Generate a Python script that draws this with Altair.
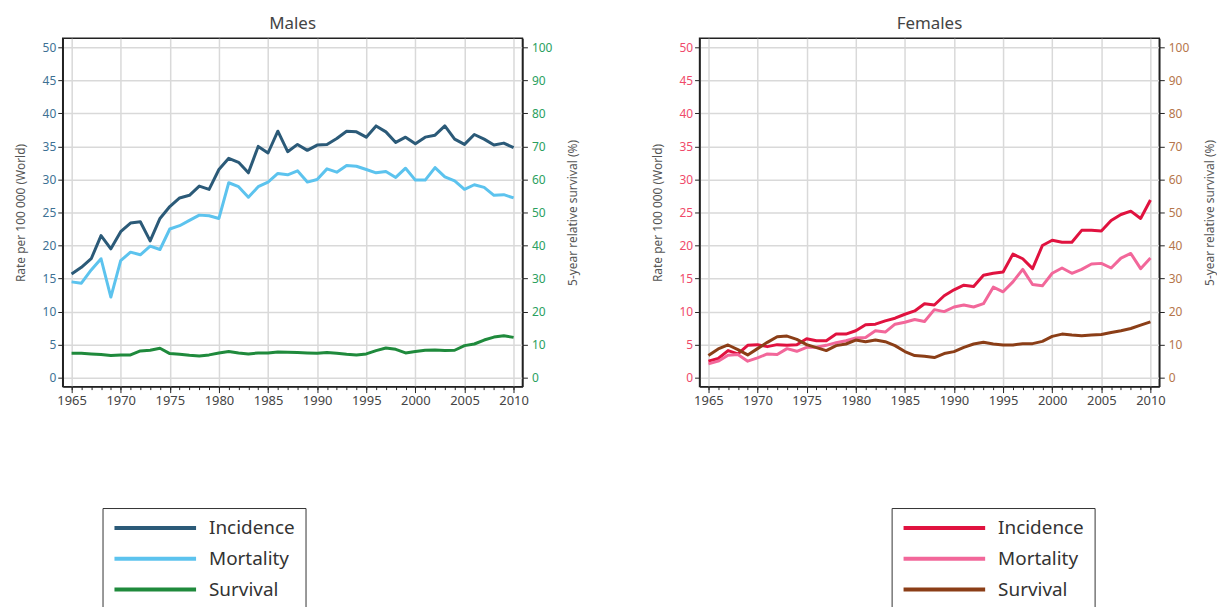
import altair as alt
import pandas as pd

years = list(range(1965, 2011))
series_names = ["Incidence", "Mortality", "Survival"]

male_incidence = [15.7, 16.7, 18.0, 21.5, 19.5, 22.1, 23.4, 23.6, 20.7, 24.1,
                  25.9, 27.2, 27.6, 29.0, 28.5, 31.5, 33.2, 32.6, 31.0, 35.0,
                  34.0, 37.3, 34.2, 35.3, 34.4, 35.2, 35.3, 36.2, 37.3, 37.2,
                  36.4, 38.1, 37.2, 35.6, 36.4, 35.4, 36.4, 36.7, 38.1, 36.1,
                  35.3, 36.8, 36.1, 35.2, 35.5, 34.8]
male_mortality = [14.5, 14.3, 16.3, 18.0, 12.2, 17.7, 19.0, 18.6, 19.9, 19.4,
                  22.5, 23.0, 23.8, 24.6, 24.5, 24.1, 29.5, 28.9, 27.3, 28.9,
                  29.6, 30.9, 30.7, 31.3, 29.6, 30.0, 31.6, 31.1, 32.1, 32.0,
                  31.5, 31.0, 31.2, 30.3, 31.7, 29.9, 29.9, 31.8, 30.4, 29.8,
                  28.5, 29.2, 28.8, 27.6, 27.7, 27.2]
male_survival = [7.4, 7.4, 7.2, 7.0, 6.7, 6.9, 6.9, 8.1, 8.3, 8.9,
                 7.3, 7.1, 6.8, 6.6, 6.9, 7.5, 7.9, 7.5, 7.2, 7.5,
                 7.5, 7.8, 7.7, 7.6, 7.5, 7.4, 7.6, 7.4, 7.1, 6.9,
                 7.2, 8.2, 9.0, 8.6, 7.5, 7.9, 8.3, 8.4, 8.2, 8.3,
                 9.7, 10.2, 11.4, 12.3, 12.7, 12.2]

female_incidence = [2.5, 2.9, 4.1, 3.6, 4.9, 5.0, 4.7, 5.0, 4.9, 5.0,
                    5.9, 5.6, 5.6, 6.6, 6.6, 7.1, 8.0, 8.1, 8.6, 9.0,
                    9.6, 10.1, 11.2, 11.0, 12.4, 13.3, 14.0, 13.8, 15.5, 15.8,
                    16.0, 18.7, 18.0, 16.5, 20.0, 20.8, 20.5, 20.5, 22.3, 22.3,
                    22.2, 23.8, 24.7, 25.2, 24.1, 26.9]
female_mortality = [2.1, 2.5, 3.4, 3.5, 2.5, 3.0, 3.6, 3.5, 4.4, 4.0,
                    4.6, 4.6, 4.9, 5.3, 5.6, 6.0, 6.1, 7.1, 6.9, 8.1,
                    8.4, 8.8, 8.5, 10.3, 10.0, 10.7, 11.0, 10.7, 11.2, 13.7,
                    13.0, 14.5, 16.4, 14.1, 13.9, 15.8, 16.6, 15.8, 16.4, 17.2,
                    17.3, 16.6, 18.1, 18.8, 16.5, 18.1]
female_survival = [6.7, 8.7, 9.9, 8.5, 6.9, 8.8, 10.7, 12.4, 12.6, 11.6,
                   10.0, 9.1, 8.2, 9.7, 10.2, 11.4, 10.9, 11.4, 10.9, 9.7,
                   7.9, 6.7, 6.5, 6.1, 7.3, 7.9, 9.2, 10.2, 10.7, 10.2,
                   9.9, 9.9, 10.3, 10.3, 11.0, 12.5, 13.2, 12.9, 12.7, 12.9,
                   13.1, 13.7, 14.2, 14.9, 15.9, 16.9]

major_years = [1965, 1970, 1975, 1980, 1985, 1990, 1995, 2000, 2005, 2010]
rate_ticks = list(range(0, 51, 5))
surv_ticks = list(range(0, 101, 10))

rows = []
for sex, inc, mort, surv in [("Males", male_incidence, male_mortality, male_survival),
                             ("Females", female_incidence, female_mortality, female_survival)]:
    for name, vals in zip(series_names, [inc, mort, surv]):
        for y, v in zip(years, vals):
            rows.append({"sex": sex, "series": name, "year": y, "value": v})
df = pd.DataFrame(rows)

FONT = "Noto Sans"


def panel(sex, colors, left_lab, right_lab, lx, ly):
    d = df[df.sex == sex]
    color = alt.Color(
        "series:N",
        scale=alt.Scale(domain=series_names, range=colors),
        legend=alt.Legend(
            orient="none", legendX=lx, legendY=ly, title=None,
            symbolType="stroke", symbolSize=6724, symbolStrokeWidth=4,
            clipHeight=20, rowPadding=11, labelFontSize=19, labelFont=FONT,
            labelColor="#333", labelOffset=11, strokeColor="#333",
            padding=10, fillColor="white"))
    xscale = alt.Scale(domain=[1964.1, 2010.9], nice=False, zero=False)
    left = alt.Chart(d).transform_filter(alt.datum.series != "Survival").mark_line(
        strokeWidth=3, strokeJoin="round").encode(
        x=alt.X("year:Q", scale=xscale,
                axis=alt.Axis(orient="bottom", values=major_years, format="d",
                              title=None, grid=True,
                              gridColor="#d9d9d9", gridWidth=1.5, tickSize=6,
                              tickColor="#222", domainColor="#222", domainWidth=1.5,
                              labelFontSize=13, labelFont=FONT, labelColor="#444",
                              labelPadding=2)),
        y=alt.Y("value:Q", scale=alt.Scale(domain=[-1.35, 51.35], nice=False, zero=False),
                axis=alt.Axis(values=rate_ticks, title="Rate per 100 000 (World)",
                              grid=True, gridColor="#d9d9d9", gridWidth=1.5,
                              tickSize=5, tickColor="#222", domainColor="#222",
                              domainWidth=1.5, labelFontSize=12, labelFont=FONT,
                              labelColor=left_lab, titleFont=FONT, titleFontSize=12,
                              titleFontWeight="normal", titleColor="#555",
                              titlePadding=15)),
        color=color)
    right = alt.Chart(d).transform_filter(alt.datum.series == "Survival").mark_line(
        strokeWidth=3, strokeJoin="round").encode(
        x=alt.X("year:Q", scale=xscale,
                axis=alt.Axis(orient="bottom", values=years, labels=False, title=None,
                              grid=False, tickSize=3, tickColor="#222", domain=False)),
        y=alt.Y("value:Q", scale=alt.Scale(domain=[-2.7, 102.7], nice=False, zero=False),
                axis=alt.Axis(orient="right", values=surv_ticks,
                              title="5-year relative survival (%)", grid=False,
                              tickSize=5, tickColor="#222", domainColor="#222",
                              domainWidth=1.5, labelFontSize=12, labelFont=FONT,
                              labelColor=right_lab, titleFont=FONT, titleFontSize=12,
                              titleFontWeight="normal", titleColor="#555",
                              titleAngle=270, titlePadding=28, labelPadding=4)),
        color=color)
    return alt.layer(left, right).resolve_scale(y="independent").resolve_axis(
        x="independent").properties(
        width=462, height=350,
        title=alt.TitleParams(sex, fontSize=17, font=FONT, color="#444",
                              fontWeight="normal", offset=5))


male = panel("Males", ["#2b5a78", "#5cc3ee", "#1f8a3c"], "#3d7194", "#2aa060", 40, 472)
female = panel("Females", ["#e0123f", "#f2679a", "#8b3e17"], "#f04a6a", "#b5754a", 193, 472)

chart = alt.hconcat(male, female, spacing=70).resolve_scale(
    color="independent").configure_view(stroke="#222", strokeWidth=1.5).properties(
    padding={"left": 5, "top": 5, "right": 0, "bottom": 0})

chart.save("out.html", embed_options={"renderer": "svg", "actions": False})
